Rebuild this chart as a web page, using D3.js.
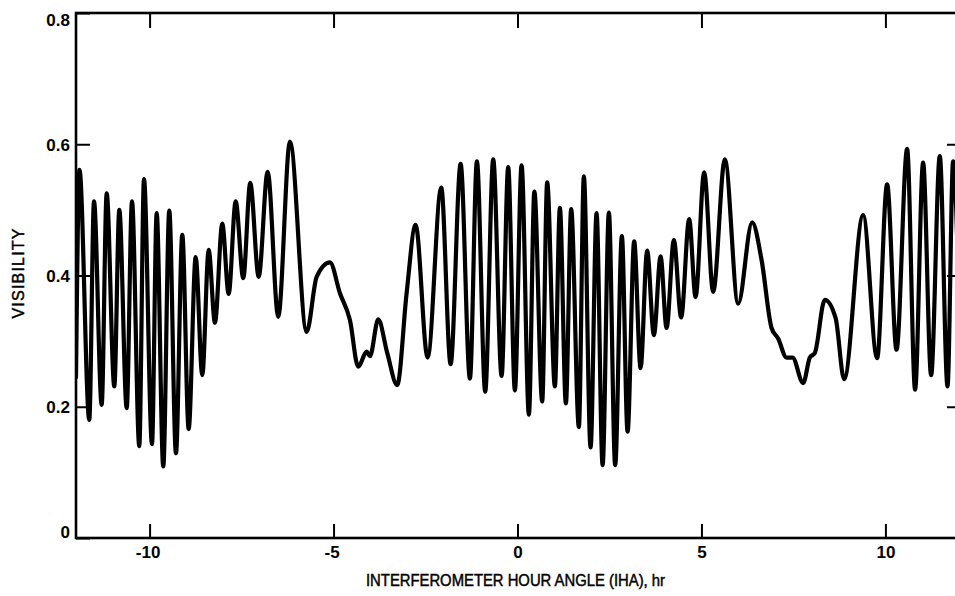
<!DOCTYPE html>
<html>
<head>
<meta charset="utf-8">
<script src="https://cdn.jsdelivr.net/npm/d3@7/dist/d3.min.js"></script>
<style>
  html, body { margin: 0; padding: 0; background: #fff; }
  svg { display: block; }
  .tick text { font-family: "Liberation Sans", Arial, Helvetica, sans-serif; font-weight: bold; font-size: 17px; fill: #000; }
  .title { font-family: "Liberation Sans", Arial, Helvetica, sans-serif; font-size: 16px; fill: #000; stroke: #000; stroke-width: 0.45px; }
</style>
</head>
<body>
<script>
// Fringe visibility versus interferometer hour angle
const hourAngle = [
  -12.00, -11.905, -11.639, -11.511, -11.302, -11.166, -10.959, -10.823, -10.622, -10.478,
  -10.280, -10.152, -9.935, -9.807, -9.628, -9.465, -9.283, -9.111, -8.938, -8.747,
  -8.568, -8.394, -8.223, -8.024, -7.851, -7.660, -7.454, -7.264, -7.035, -6.791,
  -6.503, -6.185, -5.731, -5.459, -5.098, -4.826, -4.554, -4.329, -4.101, -4.011,
  -3.785, -3.541, -3.269, -3.014, -2.769, -2.443, -2.073, -1.818, -1.546, -1.293,
  -1.103, -0.878, -0.660, -0.432, -0.253, -0.071, 0.111, 0.310, 0.459, 0.671,
  0.807, 1.016, 1.152, 1.315, 1.459, 1.668, 1.804, 1.986, 2.149, 2.313,
  2.484, 2.655, 2.837, 2.992, 3.171, 3.345, 3.524, 3.707, 3.889, 4.052,
  4.250, 4.448, 4.666, 4.840, 5.073, 5.318, 5.636, 5.997, 6.378, 6.633,
  6.905, 7.084, 7.312, 7.476, 7.764, 7.946, 8.082, 8.353, 8.647, 8.878,
  9.394, 9.774, 10.046, 10.302, 10.590, 10.807, 11.024, 11.242, 11.478, 11.688,
  11.840, 12.00
];
const visibility = [
  0.245, 0.561, 0.180, 0.513, 0.203, 0.525, 0.231, 0.500, 0.198, 0.513,
  0.140, 0.547, 0.143, 0.495, 0.109, 0.499, 0.129, 0.462, 0.166, 0.428,
  0.248, 0.439, 0.328, 0.479, 0.372, 0.513, 0.396, 0.541, 0.398, 0.558,
  0.337, 0.604, 0.314, 0.398, 0.420, 0.373, 0.332, 0.261, 0.284, 0.277,
  0.333, 0.282, 0.233, 0.373, 0.477, 0.275, 0.534, 0.265, 0.570, 0.243,
  0.574, 0.223, 0.577, 0.247, 0.565, 0.225, 0.568, 0.188, 0.528, 0.208,
  0.542, 0.231, 0.503, 0.205, 0.501, 0.169, 0.551, 0.138, 0.495, 0.111,
  0.496, 0.111, 0.460, 0.162, 0.452, 0.259, 0.438, 0.309, 0.429, 0.320,
  0.454, 0.336, 0.486, 0.367, 0.557, 0.375, 0.577, 0.357, 0.481, 0.424,
  0.320, 0.304, 0.275, 0.275, 0.236, 0.275, 0.282, 0.363, 0.335, 0.242,
  0.492, 0.274, 0.539, 0.287, 0.593, 0.226, 0.572, 0.248, 0.582, 0.231,
  0.574, 0.360
];
const xTicks = [-10, -5, 0, 5, 10];
const yTicks = [0, 0.2, 0.4, 0.6, 0.8];
const xTitle = "INTERFEROMETER HOUR ANGLE (IHA), hr";
const yTitle = "VISIBILITY";

const W = 955, H = 596;
const plotLeft = 76, plotRight = 959, plotTop = 13, plotBottom = 538;

const svg = d3.select("body").append("svg").attr("width", W).attr("height", H);

const x = d3.scaleLinear().domain([-12, 12]).range([plotLeft, plotRight]);
const y = d3.scaleLinear().domain([0, 0.8]).range([plotBottom, plotTop]);

// Plain hyphen for negative hour angles
const fmtX = d => String(d);
const fmtY = d => d === 0 ? "0" : d3.format(".1f")(d);

// Axes with inward ticks
const gx = svg.append("g").attr("transform", `translate(0,${plotBottom})`)
  .call(d3.axisBottom(x).tickValues(xTicks).tickSize(-14).tickPadding(8).tickFormat(fmtX));
const gxTop = svg.append("g").attr("transform", `translate(0,${plotTop})`)
  .call(d3.axisTop(x).tickValues(xTicks).tickSize(-15).tickFormat(""));
const gy = svg.append("g").attr("transform", `translate(${plotLeft},0)`)
  .call(d3.axisLeft(y).tickValues(yTicks).tickSize(-14).tickPadding(6).tickFormat(fmtY));
const gyRight = svg.append("g").attr("transform", `translate(${plotRight},0)`)
  .call(d3.axisRight(y).tickValues(yTicks.slice(1, -1)).tickSize(-12).tickFormat(""));

[gx, gxTop, gy, gyRight].forEach(g => {
  g.select(".domain").remove();
  g.selectAll(".tick line").attr("stroke", "#000").attr("stroke-width", 2);
});

// Negative labels sit a little left of their ticks
gx.selectAll(".tick text").attr("dx", d => d < 0 ? -2 : 0);

// Keep the end labels inside the frame
gy.selectAll(".tick text")
  .attr("dy", d => d === 0.8 ? "0.72em" : d === 0 ? "-0.02em" : "0.35em");

// Frame
svg.append("rect")
  .attr("x", plotLeft).attr("y", plotTop)
  .attr("width", plotRight - plotLeft).attr("height", plotBottom - plotTop)
  .attr("fill", "none").attr("stroke", "#000").attr("stroke-width", 2.6);

// Axis titles (set in a condensed width)
svg.append("text").attr("class", "title")
  .attr("x", (x(-12) + x(12)) / 2 - 2).attr("y", 586)
  .attr("text-anchor", "middle")
  .attr("textLength", 299).attr("lengthAdjust", "spacingAndGlyphs")
  .text(xTitle);
svg.append("text").attr("class", "title")
  .attr("transform", `translate(24,${(plotTop + plotBottom) / 2 - 2}) rotate(-90)`)
  .attr("text-anchor", "middle")
  .attr("textLength", 90).attr("lengthAdjust", "spacing")
  .text(yTitle);

// Visibility curve
const pts = hourAngle.map((h, i) => [h, visibility[i]]);
svg.append("defs").append("clipPath").attr("id", "plot")
  .append("rect").attr("x", plotLeft).attr("y", plotTop).attr("width", plotRight - plotLeft).attr("height", plotBottom - plotTop);

svg.append("path")
  .datum(pts)
  .attr("clip-path", "url(#plot)")
  .attr("fill", "none")
  .attr("stroke", "#000")
  .attr("stroke-width", 4.2)
  .attr("stroke-linejoin", "round")
  .attr("stroke-linecap", "round")
  .attr("d", d3.line().x(d => x(d[0])).y(d => y(d[1])).curve(d3.curveMonotoneX));
</script>
</body>
</html>
